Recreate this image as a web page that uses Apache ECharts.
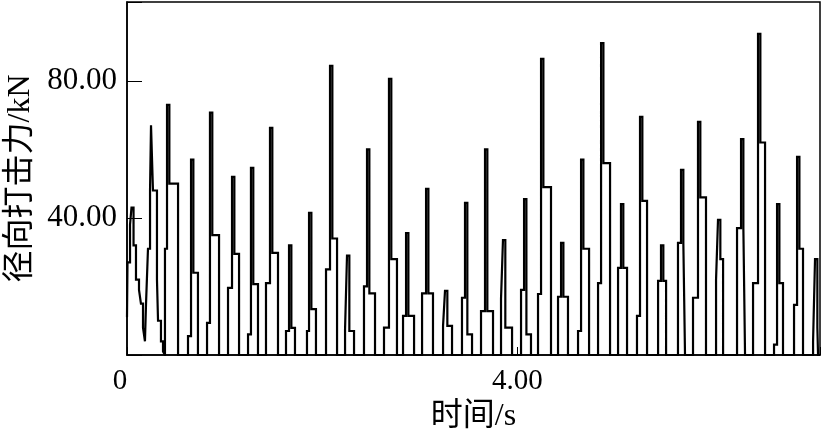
<!DOCTYPE html>
<html>
<head>
<meta charset="utf-8">
<script src="https://cdn.jsdelivr.net/npm/echarts@6/dist/echarts.min.js"></script>
<style>
  html, body { margin: 0; padding: 0; background: #fff; }
  #box { width: 821px; height: 434px; }
</style>
</head>
<body>
<div id="box"></div>
<script>
// 坐标轴范围与刻度
const xMin = 0, xMax = 7.1, xStep = 4
const yMin = 0, yMax = 103, yStep = 40

// 起始段（前两个冲击，未回到零）
const startT = [0, 0.005, 0.031, 0.031, 0.046, 0.046, 0.067, 0.067, 0.092, 0.092, 0.123, 0.123, 0.143, 0.143, 0.164, 0.164, 0.184, 0.184, 0.195, 0.195, 0.215, 0.215, 0.236, 0.236, 0.246, 0.246, 0.266, 0.266, 0.307, 0.307, 0.318, 0.318, 0.348, 0.348, 0.369, 0.369, 0.389]
const startV = [11, 27, 27, 38, 38, 43, 43, 32, 32, 22, 22, 19, 19, 15, 15, 8, 8, 4, 4, 15, 15, 31, 31, 48, 48, 67, 67, 48, 48, 22, 22, 10, 10, 4, 4, 1, 1]

// 每个冲击：起跳时刻、起跳台阶、尖峰时刻、峰值、肩部、回落时刻
const riseT  = [0.389, 0.625, 0.820, 1.035, 1.240, 1.424, 1.629, 1.844, 2.039, 2.234, 2.428, 2.633, 2.828, 3.023, 3.238, 3.432, 3.627, 3.832, 4.037, 4.211, 4.416, 4.621, 4.826, 5.031, 5.225, 5.441, 5.645, 5.799, 6.035, 6.250, 6.414, 6.629, 6.834, 7.029]
const lowV   = [31, 5.5, 9.4, 19.6, 6, 21, 7, 7, 25, 7.5, 20, 8, 11.4, 18, 8.5, 16.7, 12.8, 16.4, 19, 17.8, 17, 7, 21, 25.4, 11.4, 21.6, 32.7, 16.7, 22, 37, 21, 3, 14.6, 4]
const spikeT = [0.410, 0.656, 0.850, 1.076, 1.270, 1.465, 1.660, 1.865, 2.080, 2.254, 2.459, 2.684, 2.859, 3.064, 3.258, 3.463, 3.668, 3.852, 4.068, 4.242, 4.447, 4.652, 4.857, 5.061, 5.256, 5.471, 5.676, 5.850, 6.055, 6.291, 6.465, 6.660, 6.865, 7.049]
const peakV  = [73, 57, 70.7, 52, 54.6, 66.3, 32, 41.5, 84.4, 29, 60, 80.6, 35.6, 48.5, 18.7, 44.4, 60, 33.5, 45.5, 86.4, 32.7, 57, 91, 44, 69.5, 32, 54, 68, 39.4, 63, 93.7, 44, 57.8, 28]
const shoulderV = [50, 24, 35, 29.5, 20.7, 29.8, 7.9, 13.4, 34, 7, 18, 28, 11.4, 18, 8.5, 6, 12.8, 8, 6, 49, 17, 31, 56, 25.4, 45, 21.6, 32.7, 46, 28, 37, 62, 21, 31, 8]
const fallT  = [0.523, 0.727, 0.943, 1.148, 1.342, 1.547, 1.721, 1.936, 2.152, 2.326, 2.541, 2.766, 2.941, 3.135, 3.330, 3.535, 3.750, 3.945, 4.139, 4.344, 4.518, 4.734, 4.949, 5.123, 5.328, 5.523, 5.717, 5.932, 6.107, 6.332, 6.537, 6.721, 6.926, 7.080]
const sampleStep = 0.024

const font = "'Liberation Serif', 'Times New Roman', 'Noto Sans CJK SC', serif"

function buildTrace() {
  const pts = startT.map((t, i) => [t, startV[i]])
  for (let i = 0; i < riseT.length; i++) {
    const s = spikeT[i] + sampleStep
    pts.push([riseT[i], 0], [riseT[i], lowV[i]], [spikeT[i], lowV[i]], [spikeT[i], peakV[i]],
      [s, peakV[i]], [s, shoulderV[i]], [fallT[i], shoulderV[i]], [fallT[i], 0])
  }
  pts.push([xMax, 0])
  return pts
}

const myChart = echarts.init(document.getElementById('box'))
const option = {
  animation: false,
  backgroundColor: '#fff',
  grid: {
    left: 127, right: 1, top: 2, bottom: 79,
    containLabel: false,
    outerBoundsMode: 'none',
    show: true, borderColor: '#000', borderWidth: 1.5
  },
  xAxis: {
    type: 'value',
    min: xMin, max: xMax, interval: xStep,
    name: '时间/s',
    nameLocation: 'middle',
    nameGap: 45,
    nameTextStyle: { fontFamily: font, fontSize: 32, color: '#000' },
    axisLine: { show: true, lineStyle: { color: '#000', width: 1.5 } },
    axisTick: { show: true, inside: true, length: 8, lineStyle: { color: '#000' } },
    splitLine: { show: false },
    axisLabel: {
      fontFamily: font, fontSize: 29, color: '#000', margin: 12,
      formatter: v => v === 0 ? '{z|0}' : (v % xStep === 0 ? v.toFixed(2) : ''),
      rich: { z: { fontFamily: font, fontSize: 29, color: '#000', padding: [0, 14, 0, 0] } }
    }
  },
  yAxis: {
    type: 'value',
    min: yMin, max: yMax, interval: yStep,
    name: '径向打击力/kN',
    nameLocation: 'middle',
    nameGap: 89,
    nameTextStyle: { fontFamily: font, fontSize: 32, color: '#000' },
    axisLine: { show: true, lineStyle: { color: '#000', width: 1.5 } },
    axisTick: { show: true, inside: true, length: 15, lineStyle: { color: '#000' } },
    splitLine: { show: false },
    axisLabel: {
      fontFamily: font, fontSize: 31, color: '#000', margin: 10,
      formatter: v => (v > 0 && v % yStep === 0) ? v.toFixed(2) : ''
    }
  },
  series: [{
    type: 'line',
    data: buildTrace(),
    showSymbol: false,
    clip: true,
    lineStyle: { color: '#000', width: 2.2, join: 'miter' }
  }]
}
myChart.setOption(option)
</script>
</body>
</html>
